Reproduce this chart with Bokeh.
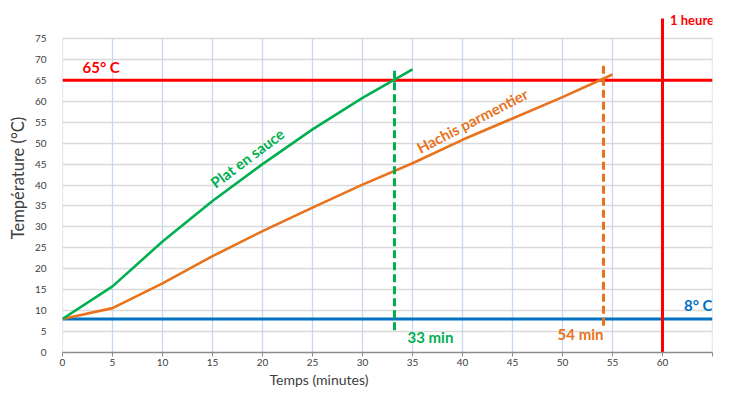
import math
from bokeh.plotting import figure
from bokeh.models import Range1d, FixedTicker, Label, Title
from bokeh.embed import file_html
from bokeh.resources import INLINE

# ---- data ----
plat_minutes = [0, 5, 10, 15, 20, 25, 30, 35]
plat_temp = [8, 15.8, 26.5, 36.2, 45.0, 53.3, 60.8, 67.6]
hachis_minutes = [0, 5, 10, 15, 20, 25, 30, 35, 40, 45, 50, 55]
hachis_temp = [8, 10.6, 16.5, 23.0, 29.0, 34.6, 40.1, 45.2, 50.8, 55.9, 61.0, 66.4]
x_ticks = list(range(0, 70, 5))
x_tick_labels = {t: str(t) for t in x_ticks if t <= 60}
x_tick_labels[65] = ""
y_ticks = list(range(0, 80, 5))
seuil_haut = 65      # 65° C
seuil_bas = 8        # 8° C
limite = 60          # 1 heure
t_plat = 33.2        # 33 min
t_hachis = 54.1      # 54 min

GREEN = "#00b050"
ORANGE = "#e8731c"
RED = "#ff0000"
BLUE = "#0070c0"
GREY = "#404040"

p = figure(width=715, height=387, output_backend="svg", toolbar_location=None,
           x_range=Range1d(0, 65), y_range=Range1d(0, 83.36),
           min_border_left=62, min_border_right=3, min_border_top=3, min_border_bottom=35)
p.outline_line_color = None
p.xgrid.grid_line_color = None
p.ygrid.grid_line_color = "#d9d9d9"
p.ygrid.grid_line_width = 1.3
p.ygrid.ticker = FixedTicker(ticks=y_ticks)

# vertical grid lines (only up to 75)
p.segment(x0=x_ticks, y0=[0] * len(x_ticks), x1=x_ticks, y1=[75] * len(x_ticks),
          line_color="#c8d8ee", line_width=1.3)

# axes
p.xaxis.ticker = FixedTicker(ticks=x_ticks)
p.xaxis.major_label_overrides = x_tick_labels
p.xaxis.axis_line_color = "#8c8c8c"
p.xaxis.axis_line_width = 1.5
p.xaxis.major_tick_line_color = "#8c8c8c"
p.xaxis.major_tick_in = 0
p.xaxis.major_tick_out = 4
p.xaxis.minor_tick_line_color = None
p.xaxis.major_label_standoff = 2
p.xaxis.major_label_text_font = "Lato"
p.xaxis.major_label_text_font_size = "10px"
p.xaxis.major_label_text_color = GREY

p.add_layout(Title(text="Temps (minutes)", align="left", offset=207, standoff=0,
                   text_font="Lato", text_font_style="normal", text_font_size="14px",
                   text_color=GREY), "below")

p.yaxis.ticker = FixedTicker(ticks=y_ticks)
p.yaxis.axis_line_color = None
p.yaxis.major_tick_line_color = None
p.yaxis.minor_tick_line_color = None
p.yaxis.major_label_standoff = 10
p.yaxis.major_label_text_font = "Lato"
p.yaxis.major_label_text_font_size = "10px"
p.yaxis.major_label_text_color = GREY
p.yaxis.axis_label = "Température (°C)"
p.yaxis.axis_label_text_font = "Lato"
p.yaxis.axis_label_text_font_style = "normal"
p.yaxis.axis_label_text_font_size = "16.5px"
p.yaxis.axis_label_text_color = GREY
p.yaxis.axis_label_standoff = 4

# threshold lines
p.segment(x0=[0], y0=[seuil_bas], x1=[65], y1=[seuil_bas], line_color=BLUE, line_width=3)
p.segment(x0=[0], y0=[seuil_haut], x1=[65], y1=[seuil_haut], line_color=RED, line_width=3)
p.segment(x0=[limite], y0=[0], x1=[limite], y1=[79.8], line_color=RED, line_width=3)

# curves
p.line(hachis_minutes, hachis_temp, line_color=ORANGE, line_width=2.6)
p.line(plat_minutes, plat_temp, line_color=GREEN, line_width=2.6)

# dashed time markers
p.segment(x0=[t_plat], y0=[5.3], x1=[t_plat], y1=[67.3], line_color=GREEN,
          line_width=3, line_dash="8 4")
p.segment(x0=[t_hachis], y0=[6.4], x1=[t_hachis], y1=[69.0], line_color=ORANGE,
          line_width=3, line_dash="8 4")


def lab(x, y, text, color, align="left", angle=0.0, size="15px"):
    p.add_layout(Label(x=x, y=y, text=text, text_color=color, text_font="Lato",
                       text_font_style="bold", text_font_size=size, text_align=align,
                       text_baseline="middle", angle=angle))


lab(2.0, 68.1, "65° C", RED)
lab(65.15, 79.5, "1 heure", RED, align="right", size="13px")
lab(65.0, 11.4, "8° C", BLUE, align="right")
lab(34.5, 3.8, "33 min", GREEN)
lab(54.1, 4.5, "54 min", ORANGE, align="right")
lab(18.47, 46.5, "Plat en sauce", GREEN, align="center", angle=math.radians(36.9))
lab(40.97, 55.4, "Hachis parmentier", ORANGE, align="center", angle=math.radians(27.2))

open("out.html", "w").write(file_html(p, INLINE))
